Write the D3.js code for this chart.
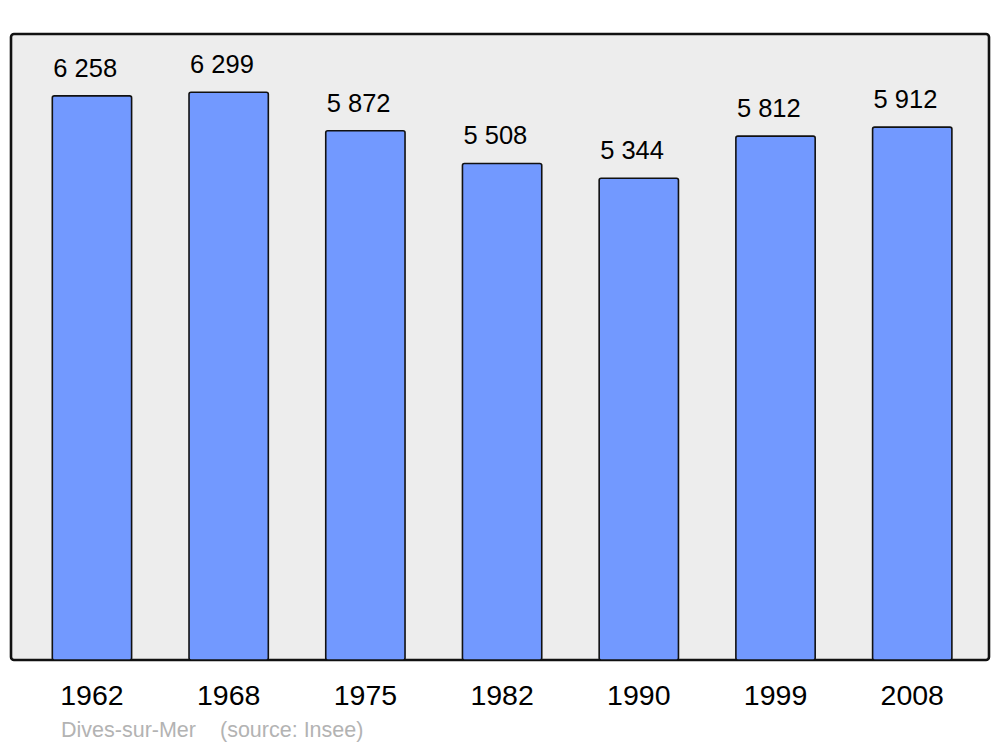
<!DOCTYPE html>
<html>
<head>
<meta charset="utf-8">
<script src="https://cdn.jsdelivr.net/npm/d3@7"></script>
<style>
  body { margin: 0; background: #fff; }
  text { font-family: "Liberation Sans", Arial, sans-serif; }
</style>
</head>
<body>
<div id="chart"></div>
<script>
// data
var years = ["1962", "1968", "1975", "1982", "1990", "1999", "2008"];
var population = [6258, 6299, 5872, 5508, 5344, 5812, 5912];
var valueLabels = ["6 258", "6 299", "5 872", "5 508", "5 344", "5 812", "5 912"];
var town = "Dives-sur-Mer";
var source = "(source: Insee)";

width = 1000;
height = 747;

frameLeft = 11;
frameRight = 989;
frameTop = 34;
baseY = 660;

svg = d3.select("#chart").append("svg")
    .attr("width", width)
    .attr("height", height);

// Scales
xScale = d3.scaleBand()
    .domain(years)
    .range([23.6, 980.6])
    .paddingInner(0.42)
    .paddingOuter(0.21);

yScale = d3.scaleLinear()
    .domain([0, 7000])
    .range([baseY, 29]);

// frame
svg.append("rect")
    .attr("x", frameLeft)
    .attr("y", frameTop)
    .attr("width", frameRight - frameLeft)
    .attr("height", baseY - frameTop)
    .attr("rx", 3)
    .attr("fill", "#ededed")
    .attr("stroke", "#111")
    .attr("stroke-width", 2.6);

// bars
svg.selectAll(".bar")
    .data(population)
    .enter()
    .append("rect")
    .attr("class", "bar")
    .attr("x", (d, i) => xScale(years[i]))
    .attr("y", d => yScale(d))
    .attr("width", xScale.bandwidth())
    .attr("height", d => yScale(0) - yScale(d))
    .attr("rx", 2)
    .attr("fill", "#7299ff")
    .attr("stroke", "#111")
    .attr("stroke-width", 1.6);

// value labels
svg.selectAll(".val")
    .data(population)
    .enter()
    .append("text")
    .attr("class", "val")
    .attr("x", (d, i) => xScale(years[i]) + 1)
    .attr("y", d => yScale(d) - 19)
    .attr("font-size", "25.5px")
    .attr("fill", "#000")
    .text((d, i) => valueLabels[i]);

// year axis labels
xAxis = d3.axisBottom(xScale).tickSize(0).tickPadding(0);
gx = svg.append("g")
    .attr("transform", `translate(0, ${baseY})`)
    .call(xAxis);
gx.select(".domain").remove();
gx.selectAll("text")
    .attr("y", 45)
    .attr("dy", 0)
    .attr("font-size", "28.5px")
    .attr("font-family", "Liberation Sans, Arial, sans-serif")
    .attr("fill", "#000");

// footer
svg.append("text")
    .attr("x", 61)
    .attr("y", 737)
    .attr("font-size", "21.5px")
    .attr("fill", "#b3b3b3")
    .text(town);

svg.append("text")
    .attr("x", 220)
    .attr("y", 737)
    .attr("font-size", "21.5px")
    .attr("fill", "#b3b3b3")
    .text(source);
</script>
</body>
</html>
